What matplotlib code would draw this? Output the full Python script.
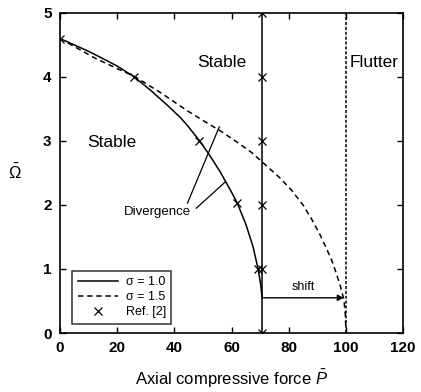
import matplotlib
matplotlib.use("Agg")
import matplotlib.pyplot as plt

plt.rcParams["font.family"] = ["Liberation Sans", "DejaVu Sans"]
plt.rcParams["mathtext.fontset"] = "custom"
plt.rcParams["mathtext.rm"] = "Liberation Sans"
plt.rcParams["mathtext.it"] = "Liberation Sans:italic"

# stability boundary, sigma = 1.0
p_s1 = [0, 5, 10, 14, 20, 26, 32, 38, 42, 44.6, 48.5, 52, 56, 58, 60, 62, 65, 67.5, 69.3, 70.2, 70.7]
om_s1 = [4.6, 4.5, 4.4, 4.31, 4.17, 4.0, 3.78, 3.54, 3.37, 3.24, 3.02, 2.8, 2.52, 2.36, 2.2, 2.03, 1.7, 1.35, 1.0, 0.75, 0.55]

# stability boundary, sigma = 1.5
p_s2 = [0, 6, 12, 20, 26, 35, 44.6, 50, 56, 62, 67, 72, 77, 81, 85, 88, 91, 93, 95, 96.5, 98, 99.3, 99.8, 100]
om_s2 = [4.6, 4.45, 4.3, 4.13, 4.01, 3.76, 3.47, 3.32, 3.16, 2.98, 2.82, 2.62, 2.42, 2.23, 2.0, 1.78, 1.53, 1.34, 1.14, 0.95, 0.74, 0.52, 0.28, 0.0]

# divergence / flutter limits
p_div1 = 70.7
p_div2 = 100.0
om_shift = 0.55

# Ref. [2] points
p_ref = [0, 26, 48.5, 62, 69.3, 70.7, 70.7, 70.7, 70.7, 70.7, 70.7]
om_ref = [4.6, 4.0, 3.0, 2.03, 1.0, 0, 1, 2, 3, 4, 5]

fig = plt.figure(figsize=(4.21, 3.92), dpi=100)
ax = fig.add_axes([0.1425, 0.1505, 0.815, 0.8165])

ax.plot(p_s1, om_s1, color="black", lw=1.1, label="σ = 1.0")
ax.plot(p_s2, om_s2, color="black", lw=1.1, ls=(0, (3.5, 2.5)), label="σ = 1.5")
ax.plot([p_div1, p_div1], [0, 5], color="black", lw=1.1)
ax.plot([p_div2, p_div2], [0, 5], color="black", lw=1.1, ls=(0, (2, 1.2)))
ax.plot(p_ref, om_ref, ls="none", marker="x", ms=6, mew=0.9, color="black", label="Ref. [2]")

# shift arrow
ax.annotate("", xy=(99.3, om_shift), xytext=(p_div1, om_shift),
            arrowprops=dict(arrowstyle="-|>", color="black", lw=1.0,
                            mutation_scale=9, shrinkA=0, shrinkB=0))
ax.text(85, om_shift + 0.07, "shift", fontsize=9, ha="center", va="bottom")

# region labels
ax.text(18, 2.98, "Stable", fontsize=12.5, ha="center", va="center")
ax.text(56.6, 4.22, "Stable", fontsize=12.5, ha="center", va="center")
ax.text(110, 4.22, "Flutter", fontsize=12.5, ha="center", va="center")

ax.text(34, 1.89, "Divergence", fontsize=9.5, ha="center", va="center")
ax.plot([44.6, 55.7], [2.03, 3.22], color="black", lw=0.9)
ax.plot([47.7, 57.8], [1.95, 2.36], color="black", lw=0.9)

ax.set_xlim(0, 120)
ax.set_ylim(0, 5)
ax.set_xticks([0, 20, 40, 60, 80, 100, 120])
ax.set_yticks([0, 1, 2, 3, 4, 5])
ax.tick_params(direction="in", top=True, right=True, length=4, width=1,
               labelsize=11, pad=6)
for lbl in ax.get_xticklabels() + ax.get_yticklabels():
    lbl.set_fontweight("bold")
for s in ax.spines.values():
    s.set_linewidth(1.2)

ax.set_xlabel(r"Axial compressive force $\bar{P}$", fontsize=12, labelpad=9)
fig.text(15 / 421, 1 - 173 / 392, r"$\bar{\Omega}$", fontsize=12,
         ha="center", va="center", family="DejaVu Serif")

leg = ax.legend(loc="lower left", bbox_to_anchor=(0.018, 0.01), fontsize=9,
                frameon=True, fancybox=False, edgecolor="black",
                handlelength=3.2, borderpad=0.45, labelspacing=0.22,
                handletextpad=0.6)
leg.get_frame().set_linewidth(1.1)

fig.savefig("out.png", dpi=100)
